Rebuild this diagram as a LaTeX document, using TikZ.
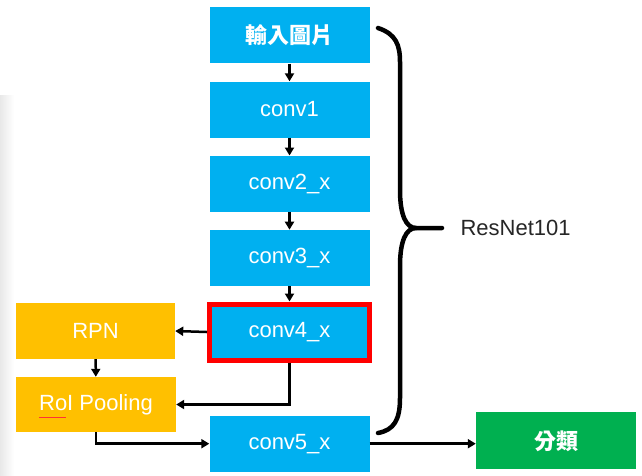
\documentclass[tikz,border=0pt]{standalone}
\usepackage{fontspec}
\setmainfont{Liberation Sans}
\newfontfamily\cjk{Noto Sans CJK TC}
\usetikzlibrary{arrows.meta,calc}
\definecolor{cblue}{HTML}{00B0F0}
\definecolor{corange}{HTML}{FFC000}
\definecolor{cgreen}{HTML}{00B050}
\definecolor{cred}{HTML}{FF0000}
\begin{document}
\begin{tikzpicture}[x=1pt,y=-1pt,
  box/.style={rectangle,inner sep=0pt,minimum width=160pt,minimum height=56pt,text=white,font=\fontsize{22}{25}\selectfont},
  bluebox/.style={box,fill=cblue},
  orangebox/.style={box,fill=corange,minimum width=159pt},
  greenbox/.style={box,fill=cgreen,minimum height=57pt},
  arr/.style={line width=2.5pt,-{Triangle[length=8pt,width=9pt]}}]
\useasboundingbox (0,0) rectangle (642,475);
\fill[white] (0,0) rectangle (642,475);
\shade[left color=black!9,right color=white] (0,95) rectangle (14,475);
\node[bluebox] (in) at (289.5,35.3) {\cjk\bfseries 輸入圖片};
\node[bluebox] (c1) at (289.5,109.5) {conv1};
\node[bluebox] (c2) at (289.5,183.7) {conv2\_x};
\node[bluebox] (c3) at (289.5,257.9) {conv3\_x};
\node[bluebox,draw=cred,line width=5pt] (c4) at (289.5,332) {conv4\_x};
\node[bluebox] (c5) at (289.5,443.7) {conv5\_x};
\node[orangebox] (rpn) at (95.5,331) {RPN};
\node[orangebox,minimum width=160pt,minimum height=55pt] (roi) at (96,404.5) {RoI Pooling};
\node[greenbox] (cls) at (556,440.8) {\cjk\bfseries 分類};
\draw[cred!80,line width=0.7pt] ($(roi.center)+(-57,13)$) -- ($(roi.center)+(-30,13)$);
\draw[arr] (in) -- (c1);
\draw[arr] (c1) -- (c2);
\draw[arr] (c2) -- (c3);
\draw[arr] (c3) -- (c4);
\draw[arr] (c4.west) -- (rpn.east);
\draw[arr] (rpn) -- (roi);
\draw[arr] (c4.south) |- (roi.east);
\draw[arr] (roi.south) |- (c5.west);
\draw[arr] (c5.east) -- (c5.east -| cls.west);
\coordinate (btip) at (442,228);
\draw[line width=4.5pt,line cap=round]
  (378,28) .. controls (396,34) and (400,45) .. (400,62)
  -- (400,190) .. controls (400,215) and (406,228) .. (416,228)
  -- (btip);
\draw[line width=4.5pt,line cap=round]
  (416,228) .. controls (406,228) and (400,241) .. (400,266)
  -- (400,398) .. controls (400,420) and (394,430) .. (378,433);
\node[anchor=west,font=\fontsize{22}{25}\selectfont,text=black!85] (lbl) at ($(btip)+(15,0)$) {ResNet101};
\end{tikzpicture}
\end{document}
